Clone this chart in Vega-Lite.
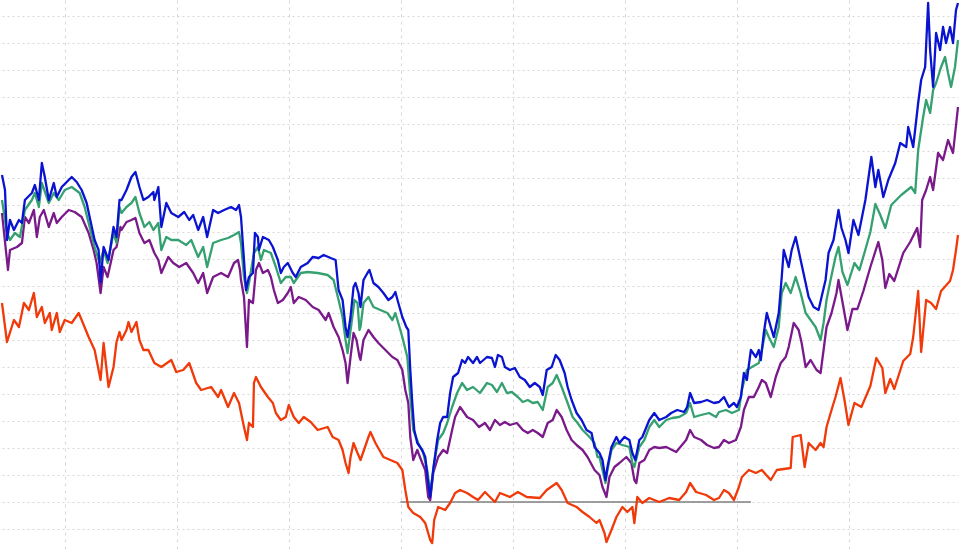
{
  "$schema": "https://vega.github.io/schema/vega-lite/v6.json",
  "width": 960,
  "height": 551,
  "padding": 0,
  "autosize": {"type": "fit", "contains": "padding"},
  "background": "white",
  "config": {"view": {"stroke": null}},
  "datasets": {
    "red": [
      {"t":0,"v":199},{"t":5,"v":160},{"t":12,"v":182},{"t":17,"v":175},{"t":22,"v":199},{"t":27,"v":192},{"t":32,"v":209},{"t":35,"v":185},{"t":40,"v":195},{"t":43,"v":179},{"t":48,"v":189},{"t":50,"v":172},{"t":55,"v":189},{"t":58,"v":170},{"t":63,"v":182},{"t":70,"v":179},{"t":77,"v":189},{"t":80,"v":182},{"t":87,"v":165},{"t":93,"v":152},{"t":99,"v":122},{"t":102,"v":159},{"t":107,"v":115},{"t":112,"v":135},{"t":115,"v":160},{"t":118,"v":170},{"t":120,"v":162},{"t":125,"v":172},{"t":127,"v":180},{"t":130,"v":170},{"t":135,"v":180},{"t":138,"v":162},{"t":142,"v":152},{"t":147,"v":152},{"t":153,"v":139},{"t":160,"v":135},{"t":170,"v":142},{"t":175,"v":130},{"t":182,"v":132},{"t":188,"v":139},{"t":195,"v":119},{"t":200,"v":112},{"t":210,"v":115},{"t":217,"v":105},{"t":220,"v":112},{"t":227,"v":95},{"t":233,"v":109},{"t":238,"v":99},{"t":243,"v":75},{"t":246,"v":62},{"t":248,"v":79},{"t":252,"v":75},{"t":253,"v":119},{"t":255,"v":125},{"t":260,"v":115},{"t":267,"v":105},{"t":272,"v":99},{"t":275,"v":89},{"t":280,"v":82},{"t":285,"v":85},{"t":288,"v":97},{"t":293,"v":85},{"t":298,"v":79},{"t":303,"v":85},{"t":310,"v":80},{"t":317,"v":72},{"t":327,"v":75},{"t":332,"v":65},{"t":338,"v":62},{"t":342,"v":52},{"t":345,"v":39},{"t":348,"v":29},{"t":350,"v":45},{"t":353,"v":59},{"t":357,"v":49},{"t":360,"v":42},{"t":368,"v":65},{"t":370,"v":70},{"t":375,"v":59},{"t":383,"v":45},{"t":390,"v":42},{"t":397,"v":39},{"t":402,"v":32},{"t":405,"v":12},{"t":408,"v":-5},{"t":413,"v":-11},{"t":420,"v":-15},{"t":425,"v":-21},{"t":430,"v":-38},{"t":432,"v":-41},{"t":434,"v":-18},{"t":438,"v":-5},{"t":445,"v":-8},{"t":450,"v":-1},{"t":455,"v":9},{"t":460,"v":12},{"t":467,"v":9},{"t":473,"v":5},{"t":478,"v":2},{"t":485,"v":10},{"t":495,"v":0},{"t":500,"v":9},{"t":510,"v":5},{"t":518,"v":10},{"t":527,"v":5},{"t":540,"v":4},{"t":547,"v":12},{"t":557,"v":19},{"t":562,"v":12},{"t":568,"v":-1},{"t":577,"v":-5},{"t":583,"v":-10},{"t":590,"v":-15},{"t":597,"v":-21},{"t":600,"v":-18},{"t":605,"v":-31},{"t":607,"v":-40},{"t":612,"v":-28},{"t":617,"v":-15},{"t":623,"v":-5},{"t":628,"v":-10},{"t":633,"v":-5},{"t":635,"v":-21},{"t":638,"v":5},{"t":643,"v":-1},{"t":650,"v":4},{"t":660,"v":0},{"t":670,"v":4},{"t":680,"v":2},{"t":687,"v":10},{"t":691,"v":19},{"t":697,"v":10},{"t":707,"v":7},{"t":715,"v":2},{"t":720,"v":4},{"t":725,"v":12},{"t":730,"v":9},{"t":735,"v":2},{"t":740,"v":15},{"t":743,"v":25},{"t":750,"v":32},{"t":757,"v":29},{"t":763,"v":32},{"t":772,"v":22},{"t":778,"v":32},{"t":792,"v":34},{"t":794,"v":65},{"t":802,"v":67},{"t":806,"v":35},{"t":810,"v":59},{"t":817,"v":52},{"t":822,"v":59},{"t":825,"v":55},{"t":828,"v":75},{"t":833,"v":92},{"t":837,"v":105},{"t":842,"v":124},{"t":846,"v":102},{"t":850,"v":77},{"t":856,"v":99},{"t":863,"v":95},{"t":872,"v":116},{"t":878,"v":144},{"t":884,"v":134},{"t":887,"v":109},{"t":892,"v":123},{"t":896,"v":113},{"t":905,"v":141},{"t":912,"v":148},{"t":915,"v":165},{"t":920,"v":211},{"t":923,"v":150},{"t":928,"v":202},{"t":933,"v":199},{"t":938,"v":193},{"t":943,"v":211},{"t":952,"v":221},{"t":955,"v":232},{"t":958,"v":252},{"t":960,"v":267}
    ],
    "blue": [
      {"t":0,"v":327},{"t":3,"v":312},{"t":5,"v":262},{"t":8,"v":282},{"t":12,"v":272},{"t":17,"v":282},{"t":20,"v":279},{"t":23,"v":302},{"t":30,"v":309},{"t":33,"v":317},{"t":37,"v":302},{"t":40,"v":339},{"t":43,"v":325},{"t":47,"v":302},{"t":52,"v":319},{"t":55,"v":305},{"t":60,"v":315},{"t":65,"v":320},{"t":70,"v":325},{"t":75,"v":320},{"t":80,"v":312},{"t":85,"v":299},{"t":88,"v":285},{"t":93,"v":262},{"t":97,"v":252},{"t":99,"v":220},{"t":102,"v":255},{"t":107,"v":242},{"t":112,"v":275},{"t":115,"v":265},{"t":118,"v":302},{"t":120,"v":302},{"t":125,"v":312},{"t":130,"v":325},{"t":134,"v":330},{"t":138,"v":315},{"t":142,"v":302},{"t":147,"v":305},{"t":152,"v":310},{"t":153,"v":302},{"t":157,"v":315},{"t":160,"v":275},{"t":165,"v":299},{"t":170,"v":289},{"t":177,"v":285},{"t":183,"v":290},{"t":188,"v":282},{"t":192,"v":287},{"t":197,"v":272},{"t":202,"v":285},{"t":206,"v":265},{"t":212,"v":292},{"t":217,"v":289},{"t":223,"v":292},{"t":230,"v":295},{"t":235,"v":292},{"t":238,"v":297},{"t":240,"v":285},{"t":243,"v":242},{"t":245,"v":212},{"t":248,"v":225},{"t":252,"v":229},{"t":254,"v":269},{"t":257,"v":265},{"t":258,"v":252},{"t":262,"v":265},{"t":268,"v":262},{"t":272,"v":255},{"t":277,"v":242},{"t":280,"v":229},{"t":283,"v":235},{"t":287,"v":239},{"t":292,"v":229},{"t":295,"v":225},{"t":300,"v":235},{"t":307,"v":239},{"t":312,"v":245},{"t":318,"v":244},{"t":323,"v":247},{"t":330,"v":244},{"t":335,"v":242},{"t":338,"v":212},{"t":342,"v":202},{"t":345,"v":175},{"t":347,"v":165},{"t":350,"v":185},{"t":353,"v":215},{"t":355,"v":219},{"t":358,"v":209},{"t":360,"v":195},{"t":363,"v":222},{"t":367,"v":229},{"t":369,"v":232},{"t":373,"v":219},{"t":378,"v":215},{"t":383,"v":209},{"t":388,"v":202},{"t":392,"v":205},{"t":395,"v":210},{"t":398,"v":199},{"t":402,"v":185},{"t":406,"v":175},{"t":408,"v":172},{"t":410,"v":132},{"t":412,"v":99},{"t":414,"v":72},{"t":417,"v":59},{"t":422,"v":52},{"t":425,"v":45},{"t":428,"v":19},{"t":430,"v":5},{"t":433,"v":32},{"t":437,"v":62},{"t":440,"v":79},{"t":443,"v":85},{"t":447,"v":85},{"t":450,"v":109},{"t":453,"v":125},{"t":458,"v":129},{"t":462,"v":142},{"t":465,"v":139},{"t":468,"v":145},{"t":473,"v":139},{"t":477,"v":145},{"t":480,"v":139},{"t":487,"v":145},{"t":492,"v":144},{"t":495,"v":135},{"t":498,"v":147},{"t":502,"v":145},{"t":505,"v":135},{"t":510,"v":132},{"t":515,"v":134},{"t":520,"v":125},{"t":525,"v":122},{"t":530,"v":115},{"t":535,"v":119},{"t":540,"v":115},{"t":543,"v":107},{"t":547,"v":132},{"t":552,"v":135},{"t":556,"v":147},{"t":560,"v":142},{"t":565,"v":129},{"t":568,"v":115},{"t":572,"v":102},{"t":577,"v":89},{"t":582,"v":82},{"t":587,"v":72},{"t":592,"v":69},{"t":595,"v":55},{"t":600,"v":49},{"t":603,"v":42},{"t":606,"v":22},{"t":608,"v":35},{"t":612,"v":55},{"t":617,"v":65},{"t":620,"v":59},{"t":625,"v":65},{"t":630,"v":62},{"t":633,"v":49},{"t":636,"v":42},{"t":640,"v":62},{"t":643,"v":65},{"t":650,"v":82},{"t":655,"v":89},{"t":660,"v":82},{"t":667,"v":85},{"t":672,"v":89},{"t":678,"v":92},{"t":685,"v":90},{"t":688,"v":95},{"t":691,"v":109},{"t":695,"v":99},{"t":702,"v":100},{"t":708,"v":102},{"t":715,"v":99},{"t":720,"v":100},{"t":725,"v":105},{"t":730,"v":95},{"t":735,"v":99},{"t":738,"v":95},{"t":742,"v":105},{"t":745,"v":129},{"t":748,"v":122},{"t":752,"v":152},{"t":757,"v":145},{"t":760,"v":152},{"t":762,"v":142},{"t":765,"v":169},{"t":768,"v":189},{"t":772,"v":175},{"t":775,"v":165},{"t":780,"v":189},{"t":783,"v":225},{"t":785,"v":252},{"t":790,"v":235},{"t":793,"v":252},{"t":797,"v":265},{"t":802,"v":242},{"t":807,"v":219},{"t":810,"v":205},{"t":815,"v":195},{"t":820,"v":192},{"t":823,"v":205},{"t":827,"v":222},{"t":830,"v":249},{"t":835,"v":262},{"t":840,"v":292},{"t":843,"v":274},{"t":847,"v":262},{"t":850,"v":249},{"t":855,"v":282},{"t":860,"v":267},{"t":867,"v":302},{"t":873,"v":345},{"t":877,"v":315},{"t":880,"v":332},{"t":885,"v":305},{"t":890,"v":322},{"t":897,"v":339},{"t":902,"v":359},{"t":908,"v":355},{"t":910,"v":375},{"t":915,"v":355},{"t":920,"v":399},{"t":923,"v":422},{"t":927,"v":435},{"t":930,"v":499},{"t":932,"v":452},{"t":935,"v":415},{"t":938,"v":469},{"t":942,"v":452},{"t":945,"v":475},{"t":948,"v":459},{"t":952,"v":475},{"t":955,"v":459},{"t":958,"v":492},{"t":960,"v":499}
    ],
    "green": [
      {"t":0,"v":302},{"t":5,"v":269},{"t":8,"v":262},{"t":13,"v":269},{"t":18,"v":265},{"t":23,"v":292},{"t":30,"v":302},{"t":33,"v":309},{"t":37,"v":295},{"t":40,"v":319},{"t":47,"v":299},{"t":52,"v":309},{"t":57,"v":302},{"t":63,"v":312},{"t":70,"v":315},{"t":78,"v":309},{"t":83,"v":295},{"t":88,"v":275},{"t":93,"v":255},{"t":98,"v":239},{"t":102,"v":252},{"t":106,"v":239},{"t":112,"v":269},{"t":115,"v":259},{"t":118,"v":295},{"t":120,"v":289},{"t":125,"v":295},{"t":130,"v":299},{"t":134,"v":305},{"t":138,"v":289},{"t":143,"v":275},{"t":148,"v":280},{"t":152,"v":272},{"t":157,"v":279},{"t":160,"v":252},{"t":165,"v":265},{"t":170,"v":262},{"t":177,"v":262},{"t":185,"v":257},{"t":190,"v":262},{"t":197,"v":245},{"t":202,"v":255},{"t":206,"v":235},{"t":212,"v":259},{"t":220,"v":262},{"t":227,"v":264},{"t":233,"v":267},{"t":238,"v":270},{"t":240,"v":259},{"t":243,"v":225},{"t":246,"v":209},{"t":248,"v":219},{"t":253,"v":249},{"t":257,"v":255},{"t":260,"v":242},{"t":263,"v":252},{"t":270,"v":249},{"t":275,"v":235},{"t":280,"v":219},{"t":285,"v":225},{"t":290,"v":225},{"t":293,"v":219},{"t":300,"v":229},{"t":307,"v":230},{"t":317,"v":229},{"t":327,"v":227},{"t":333,"v":222},{"t":338,"v":202},{"t":342,"v":185},{"t":345,"v":162},{"t":347,"v":149},{"t":351,"v":179},{"t":354,"v":202},{"t":357,"v":199},{"t":359,"v":172},{"t":360,"v":175},{"t":363,"v":199},{"t":368,"v":205},{"t":373,"v":195},{"t":380,"v":192},{"t":387,"v":189},{"t":392,"v":182},{"t":395,"v":189},{"t":398,"v":179},{"t":402,"v":165},{"t":407,"v":145},{"t":410,"v":105},{"t":413,"v":72},{"t":418,"v":59},{"t":423,"v":49},{"t":427,"v":32},{"t":430,"v":9},{"t":434,"v":39},{"t":438,"v":62},{"t":443,"v":69},{"t":447,"v":79},{"t":452,"v":95},{"t":457,"v":109},{"t":462,"v":119},{"t":467,"v":112},{"t":473,"v":115},{"t":480,"v":109},{"t":487,"v":119},{"t":492,"v":117},{"t":497,"v":110},{"t":502,"v":119},{"t":507,"v":109},{"t":512,"v":110},{"t":518,"v":105},{"t":523,"v":100},{"t":528,"v":102},{"t":533,"v":99},{"t":538,"v":100},{"t":543,"v":92},{"t":548,"v":115},{"t":553,"v":119},{"t":557,"v":127},{"t":562,"v":115},{"t":568,"v":99},{"t":573,"v":85},{"t":578,"v":79},{"t":583,"v":72},{"t":590,"v":65},{"t":595,"v":59},{"t":598,"v":45},{"t":600,"v":45},{"t":603,"v":32},{"t":606,"v":19},{"t":608,"v":32},{"t":612,"v":52},{"t":617,"v":59},{"t":623,"v":57},{"t":630,"v":55},{"t":633,"v":39},{"t":635,"v":35},{"t":640,"v":55},{"t":645,"v":62},{"t":650,"v":75},{"t":655,"v":82},{"t":660,"v":75},{"t":667,"v":82},{"t":673,"v":84},{"t":680,"v":85},{"t":687,"v":89},{"t":691,"v":99},{"t":695,"v":85},{"t":702,"v":87},{"t":710,"v":89},{"t":717,"v":85},{"t":720,"v":90},{"t":727,"v":92},{"t":733,"v":89},{"t":740,"v":92},{"t":743,"v":112},{"t":748,"v":132},{"t":753,"v":135},{"t":760,"v":139},{"t":763,"v":152},{"t":767,"v":172},{"t":770,"v":165},{"t":775,"v":155},{"t":780,"v":175},{"t":783,"v":209},{"t":787,"v":219},{"t":792,"v":209},{"t":797,"v":225},{"t":802,"v":209},{"t":807,"v":189},{"t":812,"v":182},{"t":817,"v":175},{"t":822,"v":162},{"t":825,"v":179},{"t":828,"v":202},{"t":832,"v":222},{"t":837,"v":245},{"t":840,"v":255},{"t":844,"v":230},{"t":849,"v":217},{"t":856,"v":239},{"t":861,"v":232},{"t":866,"v":249},{"t":872,"v":270},{"t":877,"v":298},{"t":882,"v":287},{"t":887,"v":274},{"t":893,"v":297},{"t":903,"v":307},{"t":913,"v":315},{"t":917,"v":309},{"t":920,"v":352},{"t":925,"v":385},{"t":928,"v":402},{"t":932,"v":389},{"t":935,"v":412},{"t":938,"v":419},{"t":943,"v":435},{"t":947,"v":445},{"t":950,"v":429},{"t":953,"v":415},{"t":957,"v":435},{"t":960,"v":462}
    ],
    "purple": [
      {"t":0,"v":289},{"t":6,"v":232},{"t":8,"v":252},{"t":15,"v":255},{"t":20,"v":259},{"t":23,"v":285},{"t":27,"v":279},{"t":32,"v":292},{"t":35,"v":265},{"t":38,"v":285},{"t":42,"v":292},{"t":47,"v":275},{"t":52,"v":289},{"t":55,"v":279},{"t":60,"v":285},{"t":67,"v":292},{"t":73,"v":290},{"t":80,"v":285},{"t":87,"v":269},{"t":92,"v":252},{"t":95,"v":239},{"t":99,"v":209},{"t":102,"v":235},{"t":106,"v":225},{"t":112,"v":252},{"t":115,"v":255},{"t":119,"v":275},{"t":120,"v":272},{"t":125,"v":280},{"t":130,"v":282},{"t":134,"v":284},{"t":138,"v":269},{"t":143,"v":259},{"t":148,"v":262},{"t":153,"v":249},{"t":157,"v":242},{"t":160,"v":229},{"t":167,"v":245},{"t":172,"v":239},{"t":178,"v":235},{"t":185,"v":239},{"t":192,"v":229},{"t":197,"v":219},{"t":202,"v":229},{"t":206,"v":209},{"t":212,"v":225},{"t":220,"v":229},{"t":227,"v":225},{"t":233,"v":239},{"t":237,"v":242},{"t":239,"v":232},{"t":240,"v":222},{"t":243,"v":205},{"t":246,"v":155},{"t":248,"v":202},{"t":252,"v":199},{"t":255,"v":232},{"t":258,"v":239},{"t":262,"v":229},{"t":267,"v":232},{"t":270,"v":225},{"t":273,"v":212},{"t":277,"v":199},{"t":282,"v":202},{"t":287,"v":209},{"t":290,"v":215},{"t":293,"v":199},{"t":298,"v":205},{"t":305,"v":202},{"t":312,"v":195},{"t":318,"v":192},{"t":325,"v":182},{"t":328,"v":189},{"t":333,"v":175},{"t":338,"v":165},{"t":342,"v":152},{"t":345,"v":139},{"t":347,"v":119},{"t":350,"v":145},{"t":353,"v":169},{"t":356,"v":162},{"t":359,"v":145},{"t":360,"v":142},{"t":363,"v":162},{"t":368,"v":172},{"t":373,"v":165},{"t":378,"v":159},{"t":385,"v":152},{"t":392,"v":145},{"t":397,"v":142},{"t":402,"v":132},{"t":405,"v":112},{"t":408,"v":99},{"t":410,"v":65},{"t":413,"v":42},{"t":417,"v":52},{"t":422,"v":39},{"t":425,"v":32},{"t":428,"v":5},{"t":430,"v":2},{"t":433,"v":29},{"t":438,"v":45},{"t":443,"v":52},{"t":447,"v":49},{"t":452,"v":72},{"t":455,"v":85},{"t":460,"v":95},{"t":467,"v":85},{"t":473,"v":82},{"t":479,"v":75},{"t":485,"v":79},{"t":490,"v":72},{"t":495,"v":82},{"t":500,"v":77},{"t":505,"v":80},{"t":510,"v":77},{"t":517,"v":79},{"t":523,"v":72},{"t":528,"v":69},{"t":533,"v":72},{"t":538,"v":69},{"t":543,"v":65},{"t":548,"v":79},{"t":553,"v":82},{"t":557,"v":92},{"t":562,"v":85},{"t":567,"v":72},{"t":572,"v":62},{"t":577,"v":57},{"t":583,"v":52},{"t":588,"v":45},{"t":595,"v":32},{"t":600,"v":27},{"t":603,"v":15},{"t":607,"v":5},{"t":610,"v":25},{"t":615,"v":35},{"t":620,"v":39},{"t":627,"v":45},{"t":632,"v":39},{"t":635,"v":22},{"t":637,"v":19},{"t":640,"v":39},{"t":645,"v":42},{"t":650,"v":52},{"t":655,"v":55},{"t":660,"v":54},{"t":667,"v":55},{"t":677,"v":50},{"t":687,"v":62},{"t":691,"v":72},{"t":695,"v":65},{"t":702,"v":62},{"t":708,"v":57},{"t":715,"v":54},{"t":720,"v":55},{"t":725,"v":62},{"t":730,"v":59},{"t":737,"v":62},{"t":742,"v":75},{"t":745,"v":92},{"t":750,"v":105},{"t":755,"v":105},{"t":760,"v":115},{"t":763,"v":122},{"t":767,"v":119},{"t":772,"v":105},{"t":777,"v":125},{"t":782,"v":139},{"t":787,"v":145},{"t":790,"v":155},{"t":795,"v":179},{"t":800,"v":172},{"t":803,"v":159},{"t":807,"v":135},{"t":812,"v":142},{"t":818,"v":132},{"t":822,"v":129},{"t":825,"v":152},{"t":828,"v":175},{"t":833,"v":189},{"t":838,"v":209},{"t":840,"v":222},{"t":844,"v":200},{"t":849,"v":172},{"t":854,"v":193},{"t":859,"v":193},{"t":865,"v":211},{"t":872,"v":235},{"t":880,"v":260},{"t":884,"v":242},{"t":887,"v":214},{"t":891,"v":228},{"t":896,"v":221},{"t":905,"v":249},{"t":912,"v":260},{"t":919,"v":274},{"t":922,"v":255},{"t":924,"v":302},{"t":928,"v":312},{"t":932,"v":325},{"t":935,"v":312},{"t":940,"v":349},{"t":945,"v":342},{"t":950,"v":362},{"t":955,"v":349},{"t":960,"v":395}
    ],
    "zero": [{"t":400,"t2":752,"v":0}]
  },
  "encoding": {
    "x": {
      "field": "t", "type": "quantitative",
      "scale": {"domain": [0, 960], "nice": false, "zero": false},
      "axis": {"title": null, "labels": false, "ticks": false, "domain": false, "grid": true, "values": [63, 175.5, 288, 400.5, 513, 626, 738.5, 851], "gridColor": "#d8d8d8", "gridDash": [3, 4], "gridWidth": 1}
    },
    "y": {
      "field": "v", "type": "quantitative",
      "scale": {"domain": [-49, 502], "nice": false, "zero": false},
      "axis": {"title": null, "labels": false, "ticks": false, "domain": false, "grid": true, "values": [-27, 0, 27, 54, 81, 108, 135, 162, 189, 216, 243, 270, 297, 324, 351, 378, 405, 432, 459, 486], "gridColor": "#d8d8d8", "gridDash": [2, 3], "gridWidth": 1}
    }
  },
  "layer": [
    {"data": {"name": "zero"}, "mark": {"type": "rule", "color": "#7f7f7f", "strokeWidth": 1.5}, "encoding": {"x2": {"field": "t2"}}},
    {"data": {"name": "red"}, "mark": {"type": "line", "color": "#f03a0a", "strokeWidth": 2.3, "strokeJoin": "round"}},
    {"data": {"name": "purple"}, "mark": {"type": "line", "color": "#7a1a8a", "strokeWidth": 2.3, "strokeJoin": "round"}},
    {"data": {"name": "green"}, "mark": {"type": "line", "color": "#35a070", "strokeWidth": 2.3, "strokeJoin": "round"}},
    {"data": {"name": "blue"}, "mark": {"type": "line", "color": "#0a14d0", "strokeWidth": 2.3, "strokeJoin": "round"}}
  ]
}
